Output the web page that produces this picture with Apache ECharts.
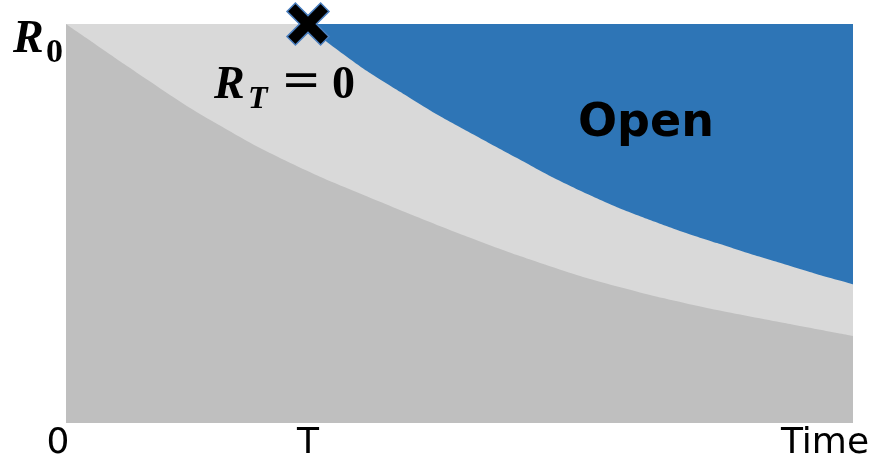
<!DOCTYPE html>
<html>
<head>
<meta charset="utf-8">
<script src="https://cdn.jsdelivr.net/npm/echarts@6/dist/echarts.min.js"></script>
<style>
    html, body { margin: 0; padding: 0; background: #fff; }
    #chart { width: 873px; height: 458px; }
</style>
</head>
<body>
<div id="chart"></div>
<script>
// x = time (0..100), y = R (0..100, R0 = 100)
const tickValues = [0, 30.75, 100];
const tickLabels = ['0', 'T', 'Time'];

// boundary of the light grey band (R_T = 0 curve), starts at T
const upperX = [0, 30.75, 33.16, 38.25, 42.44, 46.63, 50.95, 55.15, 57.31, 61.5, 65.69,
    70.01, 74.21, 78.4, 82.72, 86.91, 91.11, 95.43, 100];
const upperY = [100, 100, 95.5, 88.2, 83.0, 77.9, 73.2, 68.7, 66.4, 61.9, 57.9,
    54.1, 50.9, 47.9, 45.1, 42.4, 39.9, 37.3, 34.8];

// top of the dark grey region
const lowerX = [0, 7.75, 16.14, 24.65, 32.27, 41.55, 49.43, 57.31, 65.69, 74.21, 82.72, 91.11, 100];
const lowerY = [100, 89.5, 78.5, 68.9, 61.7, 54.1, 47.9, 42.1, 36.6, 32.1, 28.3, 25.1, 21.8];

const markerPoint = [30.75, 100];

const chart = echarts.init(document.getElementById('chart'));

const crossPath = 'path://M2,0 L5,3 L8,0 L10,2 L7,5 L10,8 L8,10 L5,7 L2,10 L0,8 L3,5 L0,2 Z';

chart.setOption({
    animation: false,
    grid: {
        left: 66, right: 20, top: 24, bottom: 35,
        show: true, backgroundColor: '#2E75B6', borderWidth: 0,
        containLabel: false, outerBoundsMode: 'none'
    },
    xAxis: {
        type: 'value', min: 0, max: 100,
        axisLine: { show: false }, axisTick: { show: false }, splitLine: { show: false },
        axisLabel: {
            customValues: tickValues,
            margin: 3,
            formatter: v => {
                const i = tickValues.indexOf(v);
                if (i === 0) return '{a|' + tickLabels[0] + '}';
                if (i === 2) return '{c|' + tickLabels[2] + '}';
                return '{b|' + tickLabels[1] + '}';
            },
            rich: {
                a: { fontFamily: 'DejaVu Sans', fontSize: 36, color: '#000', padding: [0, 16, 0, 0] },
                b: { fontFamily: 'DejaVu Sans', fontSize: 36, color: '#000' },
                c: { fontFamily: 'DejaVu Sans', fontSize: 36, color: '#000', padding: [0, 56, 0, 0] }
            }
        }
    },
    yAxis: {
        type: 'value', min: 0, max: 100, show: false
    },
    series: [
        {
            type: 'line',
            data: upperX.map((x, i) => [x, upperY[i]]),
            showSymbol: false,
            smooth: 0.2,
            lineStyle: { width: 0 },
            areaStyle: { color: '#D9D9D9', opacity: 1 },
            z: 2
        },
        {
            type: 'line',
            data: lowerX.map((x, i) => [x, lowerY[i]]),
            showSymbol: false,
            smooth: 0.2,
            lineStyle: { width: 0 },
            areaStyle: { color: '#BFBFBF', opacity: 1 },
            z: 3
        },
        {
            type: 'scatter',
            data: [markerPoint],
            symbol: crossPath,
            symbolSize: 42,
            clip: false,
            itemStyle: { color: '#000', opacity: 1, borderColor: '#4a7fc0', borderWidth: 1.5 },
            z: 5
        }
    ],
    graphic: [
        // R0 label
        { type: 'text', left: 13, top: 17, z: 10, style: { text: 'R', font: 'italic bold 46px "Liberation Serif"', fill: '#000' } },
        { type: 'text', left: 46, top: 36, z: 10, style: { text: '0', font: 'bold 34px "Liberation Serif"', fill: '#000' } },
        // R_T = 0
        { type: 'text', left: 214, top: 63, z: 10, style: { text: 'R', font: 'italic bold 46px "Liberation Serif"', fill: '#000' } },
        { type: 'text', left: 248, top: 84, z: 10, style: { text: 'T', font: 'italic bold 32px "Liberation Serif"', fill: '#000' } },
        { type: 'text', left: 281, top: 60, z: 10, style: { text: '=', font: '48px "DejaVu Serif"', fill: '#000' } },
        { type: 'text', left: 332, top: 63, z: 10, style: { text: '0', font: 'bold 46px "Liberation Serif"', fill: '#000' } },
        // region label
        { type: 'text', left: 578, top: 101, z: 10, style: { text: 'Open', font: 'bold 46px "DejaVu Sans"', fill: '#000' } }
    ]
});
</script>
</body>
</html>
